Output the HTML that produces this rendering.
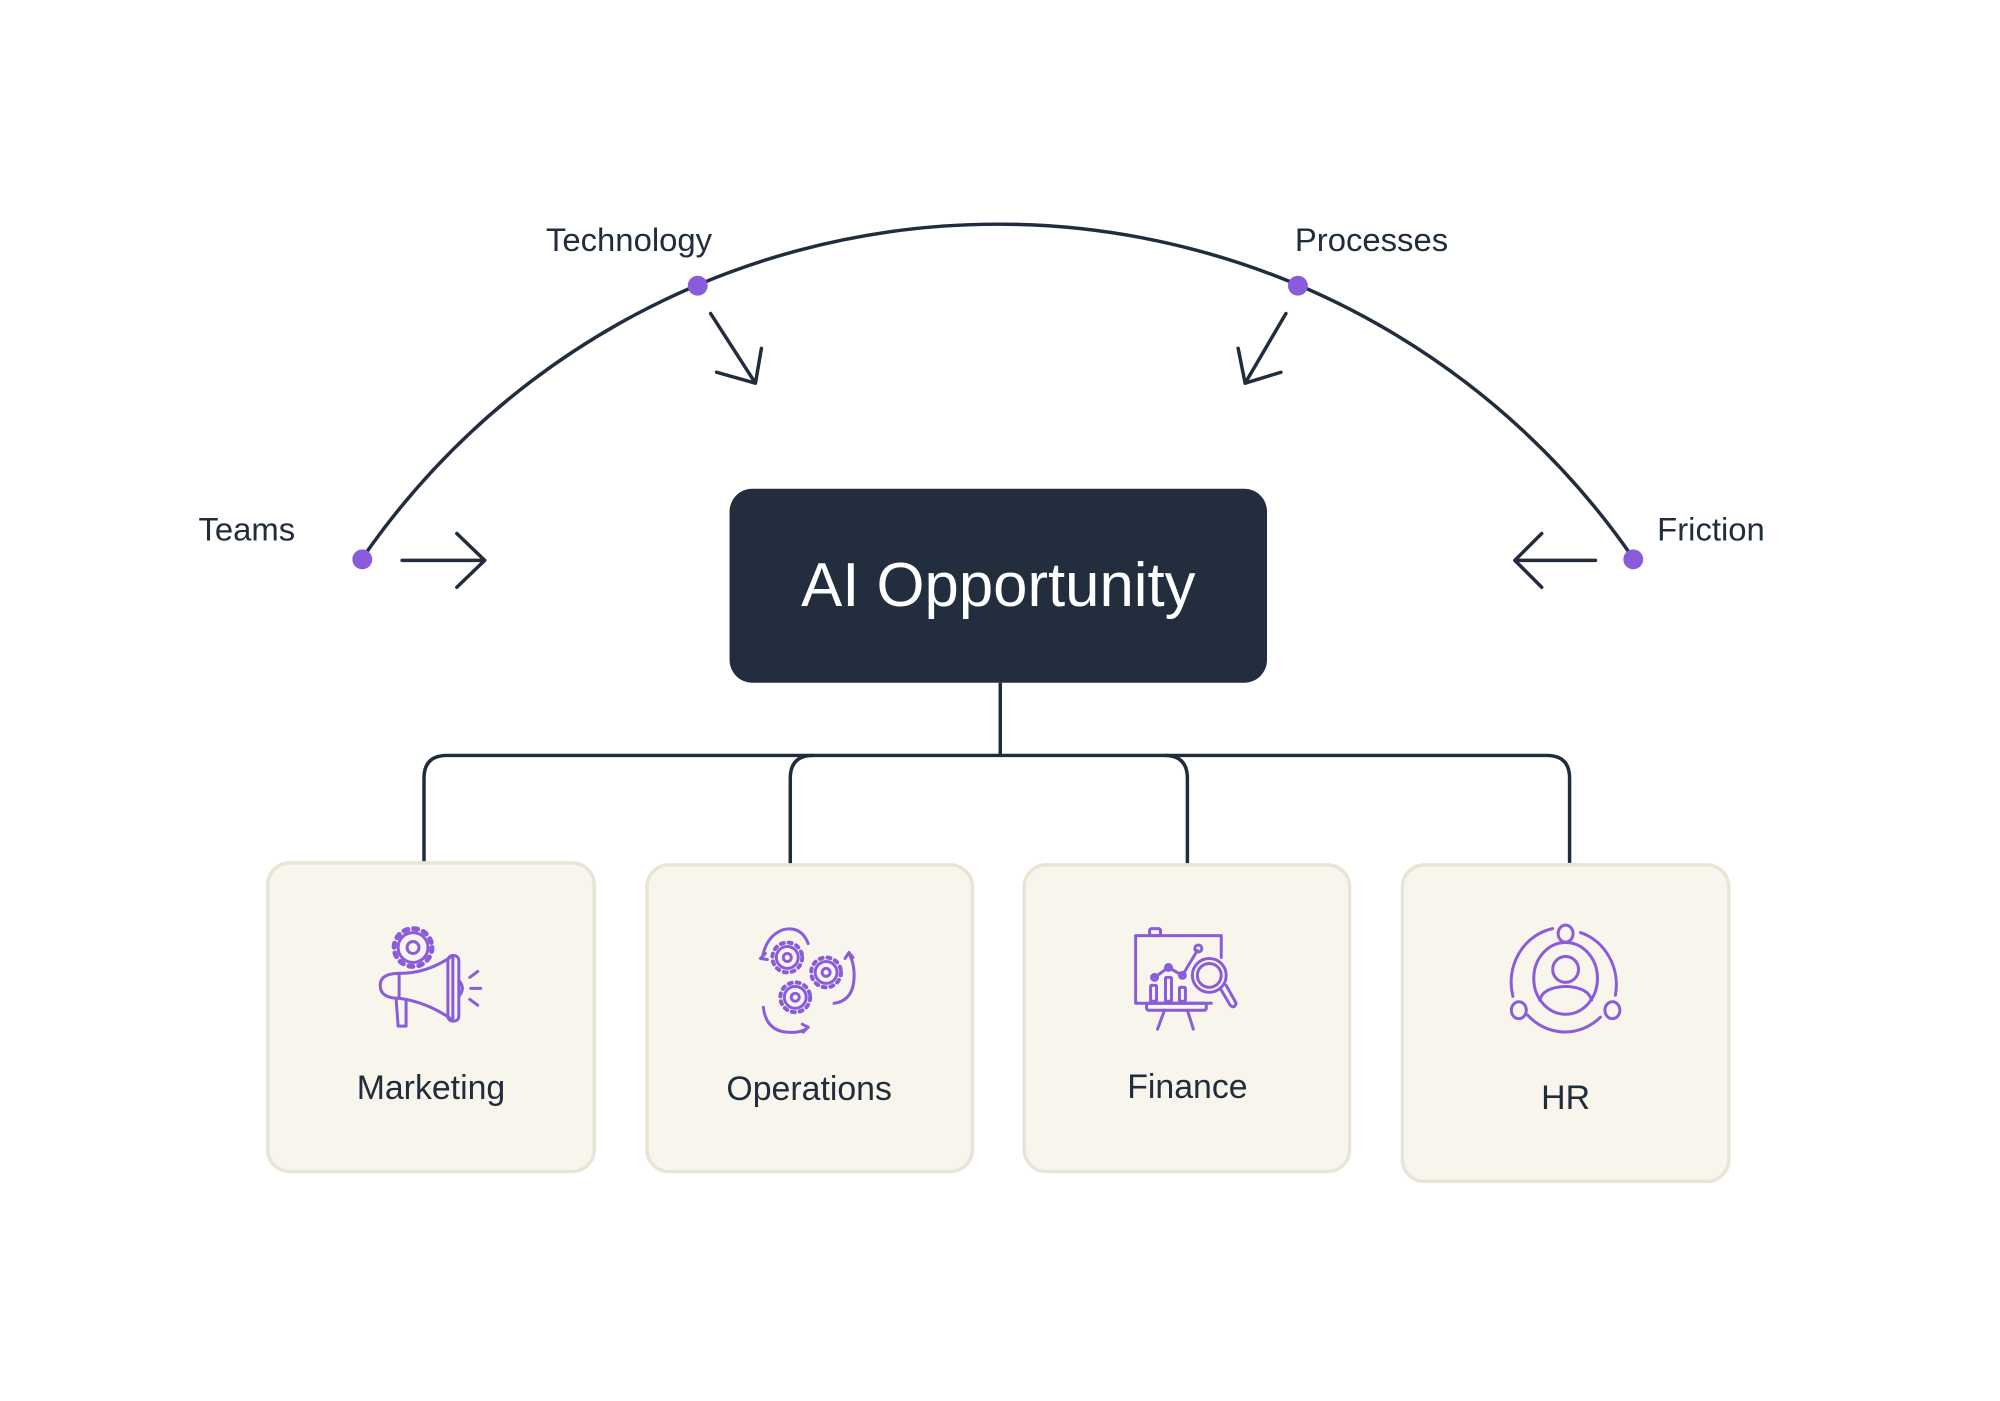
<!DOCTYPE html>
<html><head><meta charset="utf-8"><style>
html,body{margin:0;padding:0;background:#fff;}
svg{display:block;}
text{font-family:"Liberation Sans",sans-serif;}
</style></head><body>
<svg width="2000" height="1401" viewBox="0 0 2000 1401" xmlns="http://www.w3.org/2000/svg">
<g transform="scale(0.9953)">
<g fill="none" stroke="#212d3c" stroke-width="3.5" stroke-linecap="round" stroke-linejoin="round">
  <path d="M364 561 A775 775 0 0 1 1641 561"/>
  <path d="M404 563 H487 M459 536 L487 563 L459 590"/>
  <path d="M1603 563 H1522 M1549 536 L1522 563 L1549 590"/>
  <path d="M714 315 L759 385 M720 374 L759 385 L765 350"/>
  <path d="M1292 315 L1251 385 M1244 350 L1251 385 L1287 374"/>
</g>
<g fill="#8a5cdc">
  <circle cx="364" cy="562" r="10"/>
  <circle cx="1641" cy="562" r="10"/>
  <circle cx="701" cy="287" r="10"/>
  <circle cx="1304" cy="287" r="10"/>
</g>
<g fill="#212d3c" font-size="33">
  <text x="632" y="252" text-anchor="middle">Technology</text>
  <text x="1378" y="252" text-anchor="middle">Processes</text>
  <text x="248" y="543" text-anchor="middle">Teams</text>
  <text x="1665" y="543">Friction</text>
</g>
<rect x="733" y="491" width="540" height="195" rx="23" fill="#222e3e"/>
<text x="1003" y="609" text-anchor="middle" fill="#fff" font-size="62">AI Opportunity</text>
<g fill="none" stroke="#212d3c" stroke-width="3.5">
  <path d="M1005 686 V759"/>
  <path d="M426 867 V782 Q426 759 449 759 H1554 Q1577 759 1577 782 V867"/>
  <path d="M794 869 V782 Q794 759 817 759"/>
  <path d="M1193 869 V782 Q1193 759 1170 759"/>
</g>
<g fill="#f8f6ec" stroke="#e8e5d6" stroke-width="3.5">
  <rect x="269" y="867" width="328" height="310" rx="22"/>
  <rect x="650" y="869" width="327" height="308" rx="22"/>
  <rect x="1029" y="869" width="327" height="308" rx="22"/>
  <rect x="1409" y="869" width="328" height="318" rx="22"/>
</g>
<g fill="#212d3c" font-size="34" text-anchor="middle">
  <text x="433" y="1104">Marketing</text>
  <text x="813" y="1105">Operations</text>
  <text x="1193" y="1103">Finance</text>
  <text x="1573" y="1114">HR</text>
</g>
<g fill="none" stroke="#8a5cdc" stroke-width="3" stroke-linecap="round" stroke-linejoin="round">
  <circle cx="415" cy="952" r="15"/>
  <circle cx="415" cy="952" r="19" stroke-width="5" stroke-dasharray="4 6"/>
  <circle cx="415" cy="952" r="6"/>
  <path d="M401 1003 Q382 1003 382 990 Q382 978 401 978 Q430 978 455 960 V1025 Q430 1007 401 1003 Z"/>
  <path d="M401 978 V1003"/>
  <rect x="450" y="960" width="11" height="66" rx="5"/>
  <path d="M461 985 Q468 993 461 1001"/>
  <path d="M398 1004 L400 1031 L408 1031 L408 1005"/>
  <path d="M472 982 L480 976 M473 993 H483 M472 1004 L480 1010"/>
  <circle cx="791" cy="962" r="11"/><circle cx="791" cy="962" r="15" stroke-width="4" stroke-dasharray="3 5"/><circle cx="791" cy="962" r="4"/>
  <circle cx="830" cy="977" r="11"/><circle cx="830" cy="977" r="15" stroke-width="4" stroke-dasharray="3 5"/><circle cx="830" cy="977" r="4"/>
  <circle cx="799" cy="1002" r="11"/><circle cx="799" cy="1002" r="15" stroke-width="4" stroke-dasharray="3 5"/><circle cx="799" cy="1002" r="4"/>
  <path d="M812 948 Q805 930 787 934 Q770 940 766 962"/>
  <path d="M769 958 L764 963 L771 964"/>
  <path d="M838 1008 Q860 1005 858 975 Q857 965 853 958 M849 963 L853 957 L857 962"/>
  <path d="M767 1012 Q770 1040 800 1037 Q808 1036 812 1032 M806 1029 L812 1032 L807 1037"/>
  <rect x="1155" y="933" width="11" height="7" rx="2"/>
  <path d="M1217 1008 H1141 V940 H1227 V962"/>
  <rect x="1152" y="1008" width="60" height="7" rx="2"/>
  <path d="M1170 1015 L1163 1034 M1193 1015 L1199 1034"/>
  <path d="M1160 982 L1174 972 L1188 980 L1203 955"/>
  <circle cx="1160" cy="982" r="3"/><circle cx="1174" cy="972" r="3"/><circle cx="1188" cy="980" r="3"/><circle cx="1204" cy="953" r="3.5"/>
  <rect x="1156" y="990" width="6" height="16" rx="1"/><rect x="1171" y="982" width="6" height="24" rx="1"/><rect x="1185" y="992" width="6" height="14" rx="1"/>
  <circle cx="1215" cy="980" r="17"/><circle cx="1215" cy="980" r="12"/>
  <path d="M1226 993 L1236 1010 Q1240 1014 1242 1008 L1232 990"/>
  <path d="M1520 1001 A52 55 0 0 1 1560 933"/>
  <path d="M1588 937 A52 55 0 0 1 1623 1000"/>
  <path d="M1535 1020 A52 55 0 0 0 1608 1022"/>
  <ellipse cx="1573" cy="983" rx="32" ry="36"/>
  <circle cx="1573" cy="974" r="13"/>
  <path d="M1547 1005 Q1550 992 1573 991 Q1596 992 1599 1005"/>
  <ellipse cx="1573" cy="938" rx="7.5" ry="8.5"/>
  <ellipse cx="1526" cy="1015" rx="7.5" ry="8.5"/>
  <ellipse cx="1620" cy="1015" rx="7.5" ry="8.5"/>
</g>
</g>
</svg>
</body></html>
